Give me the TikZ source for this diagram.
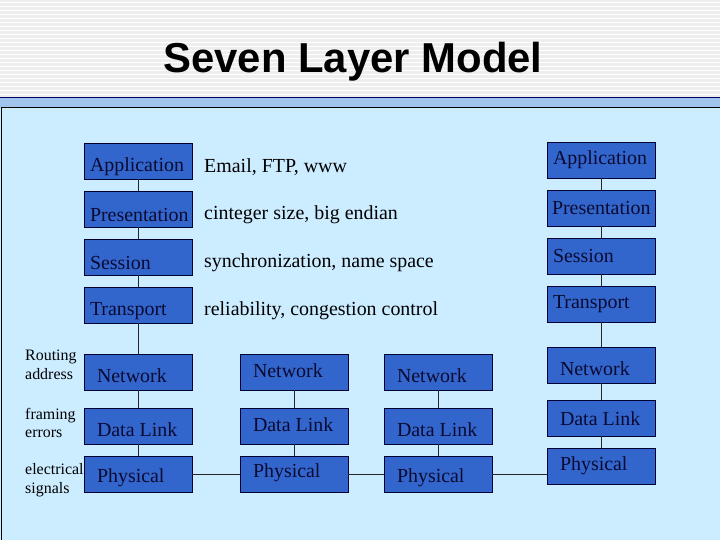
\documentclass[tikz,border=0pt]{standalone}
\usepackage{fontspec}
\setmainfont{Liberation Serif}
\newfontfamily\titlefont{Liberation Sans}
\begin{document}
\begin{tikzpicture}[x=1bp,y=-1bp,
  lay/.style={draw=black!80!blue,fill=boxblue,minimum width=108bp,minimum height=36bp,inner sep=0pt},
  lt/.style={anchor=west,font=\fontsize{20}{22}\selectfont,text=textnavy,inner sep=0pt},
  lbl/.style={font=\fontsize{20}{22}\selectfont,anchor=west,inner sep=0pt},
  side/.style={font=\fontsize{16}{18.5}\selectfont,align=left,anchor=west,inner sep=0pt},
  con/.style={draw=black!85,line width=0.8pt}]
\definecolor{boxblue}{RGB}{51,102,204}
\definecolor{textnavy}{RGB}{10,10,50}
\definecolor{panel}{RGB}{204,236,255}
\definecolor{band}{RGB}{160,196,236}
\definecolor{hdr}{RGB}{238,238,238}
\useasboundingbox (0,0) rectangle (720,540);
\fill[hdr] (0,0) rectangle (720,97);
\foreach \yy in {3,7,...,95} \draw[white,line width=1pt] (0,\yy) -- (720,\yy);
\fill[band] (0,97) rectangle (720,108);
\draw[blue!40!black,line width=0.8pt] (0,97) -- (720,97);
\fill[panel] (0,108) rectangle (720,540);
\draw[black,line width=1pt] (720,108) -- (1,108) -- (1,540);
\node[font=\titlefont\bfseries\fontsize{42}{46}\selectfont] (title) at (353,62) {Seven Layer Model};
% left stack
\foreach \n/\y in {a1/161,a2/209,a3/257,a4/305,a5/372,a6/426,a7/474}
  \node[lay] (\n) at (138,\y) {};
\foreach \n/\t in {a1/Application,a2/Presentation,a3/Session,a4/Transport}
  \node[lt] (t\n) at ([xshift=6bp,yshift=-6bp]\n.west) {\t};
\foreach \n/\t in {a5/Network,a6/Data Link,a7/Physical}
  \node[lt] (t\n) at ([xshift=13bp,yshift=-4bp]\n.west) {\t};
\node[lbl] (e1) at (204,167) {Email, FTP, www};
\node[lbl] (e2) at (204,215) {cinteger size, big endian};
\node[lbl] (e3) at (204,263) {synchronization, name space};
\node[lbl] (e4) at (204,311) {reliability, congestion control};
\node[side] (s1) at (25,365) {Routing\\address};
\node[side] (s2) at (25,423) {framing\\errors};
\node[side] (s3) at (25,480) {electrical\\signals};
% middle
\foreach \n/\y in {b5/372,b6/426,b7/474}
  \node[lay] (\n) at (294,\y) {};
\foreach \n/\t in {b5/Network,b6/Data Link,b7/Physical}
  \node[lt] (t\n) at ([xshift=13bp,yshift=1bp]\n.west) {\t};
% third
\foreach \n/\y in {c5/372,c6/426,c7/474}
  \node[lay] (\n) at (438,\y) {};
\foreach \n/\t in {c5/Network,c6/Data Link,c7/Physical}
  \node[lt] (t\n) at ([xshift=13bp,yshift=-4bp]\n.west) {\t};
% right
\foreach \n/\y in {d1/160,d2/208,d3/256,d4/304,d5/365,d6/418,d7/466}
  \node[lay] (\n) at (601,\y) {};
\foreach \n/\t/\dx/\dy in {d1/Application/6/0,d2/Presentation/5/0,d3/Session/6/0,d4/Transport/6/0,d5/Network/13/-4,d6/Data Link/13/-1,d7/Physical/13/0}
  \node[lt] (t\n) at ([xshift=\dx bp,yshift=\dy bp]\n.west) {\t};
% connectors
\draw[con] (a1) -- (a2); \draw[con] (a2) -- (a3); \draw[con] (a3) -- (a4);
\draw[con] (a4) -- (a5); \draw[con] (a5) -- (a6); \draw[con] (a6) -- (a7);
\draw[con] (b5) -- (b6); \draw[con] (b6) -- (b7);
\draw[con] (c5) -- (c6); \draw[con] (c6) -- (c7);
\draw[con] (d1) -- (d2); \draw[con] (d2) -- (d3); \draw[con] (d3) -- (d4);
\draw[con] (d4) -- (d5); \draw[con] (d5) -- (d6); \draw[con] (d6) -- (d7);
\draw[con] (a7) -- (b7); \draw[con] (b7) -- (c7); \draw[con] (c7.east) -- (d7.west |- c7.east);
\end{tikzpicture}
\end{document}
